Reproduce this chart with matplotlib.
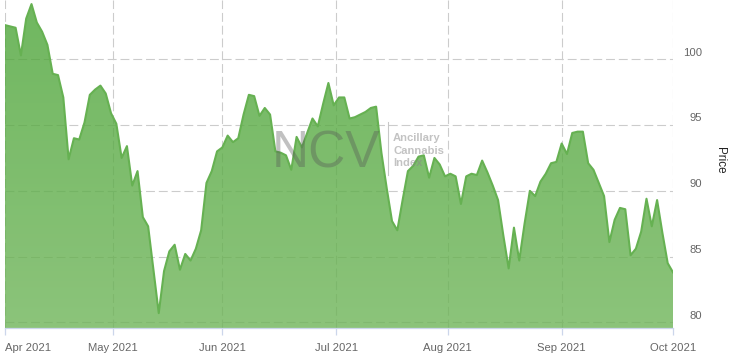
import numpy as np
import pandas as pd
import matplotlib
matplotlib.use("Agg")
import matplotlib.pyplot as plt
from matplotlib.colors import LinearSegmentedColormap
from matplotlib.transforms import ScaledTranslation
from matplotlib.lines import Line2D

plt.rcParams['font.family'] = ['Liberation Sans', 'DejaVu Sans']

# ---- data (one value per trading day, Apr 1 - Oct 1 2021) ----
holidays = ['2021-04-02', '2021-05-24', '2021-07-01', '2021-08-02', '2021-09-06']
prices = [
    102.6, 102.5, 102.4, 100.3, 103.1, 104.2, 102.8, 102.1, 101.1, 98.9,
    98.8, 97.1, 92.4, 94.0, 93.9, 95.2, 97.3, 97.7, 98.0, 97.4,
    95.9, 95.1, 92.5, 93.4, 90.4, 91.5, 88.0, 87.3, 84.0, 80.7,
    83.9, 85.4, 85.9, 84.0, 85.2, 84.7, 85.6, 87.0, 90.6, 91.5,
    93.0, 93.3, 94.2, 93.7, 94.0, 95.8, 97.3, 97.2, 95.7, 96.3,
    95.8, 93.0, 92.9, 92.7, 91.6, 94.1, 93.3, 94.4, 95.5, 94.9,
    96.6, 98.2, 96.5, 97.1, 97.1, 95.5, 95.6, 95.8, 96.0, 96.3,
    96.4, 92.9, 90.2, 87.7, 87.0, 89.3, 91.5, 91.9, 92.6, 92.7,
    91.0, 92.5, 92.0, 91.1, 91.3, 91.1, 89.0, 91.1, 91.3, 91.2,
    92.3, 91.4, 90.4, 89.3, 86.6, 84.1, 87.2, 84.7, 87.5, 90.0,
    89.6, 90.7, 91.3, 92.1, 92.2, 93.6, 92.8, 94.4, 94.5, 94.5,
    92.1, 91.6, 90.6, 89.6, 86.1, 87.8, 88.7, 88.6, 85.1, 85.6,
    86.9, 89.4, 87.3, 89.3, 86.8, 84.5, 83.8,
]
month_labels = ['Apr 2021', 'May 2021', 'Jun 2021', 'Jul 2021',
                'Aug 2021', 'Sep 2021', 'Oct 2021']
y_ticks = [80, 85, 90, 95, 100]

dates = pd.bdate_range('2021-04-01', '2021-10-01')
dates = dates[~dates.isin(pd.to_datetime(holidays))]
n = min(len(dates), len(prices))
dates = dates[:n]
prices = np.array(prices[:n])
idx = np.arange(n)

month_starts = pd.date_range('2021-04-01', '2021-10-01', freq='MS')
tick_pos = np.interp(month_starts.asi8.astype(float), dates.asi8.astype(float), idx)

# ---- figure ----
W, H = 732, 361
fig = plt.figure(figsize=(W / 100, H / 100), dpi=100)
ax_l, ax_r, ax_t, ax_b = 5, 673, 0, 328
ax = fig.add_axes([ax_l / W, 1 - ax_b / H, (ax_r - ax_l) / W, (ax_b - ax_t) / H])

ymin, ymax = 79.57, 104.51
ax.set_xlim(0, n - 1)
ax.set_ylim(ymin, ymax)

# grid
grid_kw = dict(color='#cccccc', linewidth=0.8, linestyle=(0, (8, 3.5)))
ax.set_axisbelow(True)
ax.grid(True, axis='both', **grid_kw)

# gradient area fill
poly = ax.fill_between(idx, prices, ymin, facecolor='none', edgecolor='none')
top_c = (76 / 255, 165 / 255, 56 / 255)
bot_c = (111 / 255, 181 / 255, 89 / 255)
cmap = LinearSegmentedColormap.from_list('g', [bot_c, top_c])
grad = np.linspace(0, 1, 256).reshape(-1, 1)
im = ax.imshow(grad, extent=[0, n - 1, ymin, ymax], origin='lower',
               aspect='auto', cmap=cmap, alpha=0.8, zorder=1,
               interpolation='bilinear')
im.set_clip_path(poly.get_paths()[0], transform=ax.transData)
ax.set_xlim(0, n - 1)
ax.set_ylim(ymin, ymax)

ax.plot(idx, prices, color='#66b152', linewidth=1.5, zorder=3,
        solid_joinstyle='round')

# spines
for s in ['top', 'left', 'right']:
    ax.spines[s].set_visible(False)
ax.spines['bottom'].set_color('#ccd6eb')
ax.spines['bottom'].set_linewidth(0.9)

# x ticks
ax.set_xticks(tick_pos)
ax.set_xticklabels(month_labels)
ax.tick_params(axis='x', colors='#ccd6eb', length=5.2, width=0.9,
               labelcolor='#666666', labelsize=8.1, pad=5.8)
xl = ax.get_xticklabels()
xl[0].set_horizontalalignment('left')

# y ticks (right)
ax.yaxis.tick_right()
ax.set_yticks(y_ticks)
ax.set_yticklabels([str(v) for v in y_ticks])
ax.tick_params(axis='y', length=0, labelcolor='#666666', labelsize=8.1, pad=20.9)
off = ScaledTranslation(0, 7.6 / 100, fig.dpi_scale_trans)
for lab in ax.get_yticklabels():
    lab.set_horizontalalignment('right')
    lab.set_transform(lab.get_transform() + off)

ax.yaxis.set_label_position('right')
ax.set_ylabel('Price', rotation=270, fontsize=8.4, color='#222222')
ax.yaxis.label.set_verticalalignment('center')
ax.yaxis.label.set_horizontalalignment('center')
ax.yaxis.set_label_coords((720 - ax_l) / (ax_r - ax_l), 1 - (160 - ax_t) / (ax_b - ax_t))

# watermark
fig.text(272 / W, 1 - 167 / H, 'NCV', fontsize=37, color='#555555', alpha=0.36,
         ha='left', va='baseline', zorder=10)
fig.add_artist(Line2D([387.5 / W, 387.5 / W], [1 - 122 / H, 1 - 175 / H],
                      transform=fig.transFigure, color='#bbbbbb', linewidth=0.8,
                      alpha=0.8, zorder=10))
for txt, yb in [('Ancillary', 141), ('Cannabis', 153.5), ('Index', 166)]:
    fig.text(393 / W, 1 - yb / H, txt, fontsize=8.1, fontweight='bold',
             color='#888888', alpha=0.5, ha='left', va='baseline', zorder=10)

fig.savefig('out.png', dpi=100)
